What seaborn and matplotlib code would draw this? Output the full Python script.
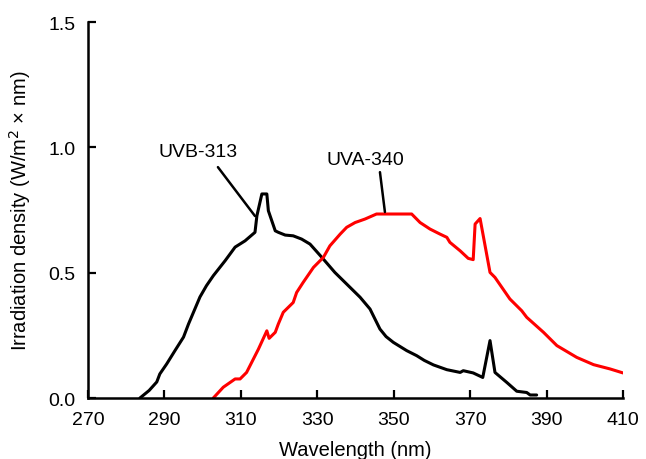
import numpy as np
import pandas as pd
import matplotlib
matplotlib.use("Agg")
import matplotlib.pyplot as plt
import seaborn as sns

# UVB-313 spectrum (wavelength nm, irradiance W/m^2/nm)
uvb_wl = [283.6, 286.0, 288.0, 288.8, 290.6, 292.8, 295.0, 296.3, 299.3, 301.0,
          302.8, 305.9, 308.5, 311.1, 313.7, 314.2, 315.5, 316.8, 317.2, 319.0,
          319.8, 321.6, 323.7, 325.9, 328.1, 329.8, 331.6, 334.6, 336.8, 339.0,
          341.2, 343.8, 345.1, 346.4, 348.0, 349.9, 353.4, 356.0, 358.0, 360.4,
          363.9, 367.4, 368.2, 370.8, 373.3, 375.2, 376.5, 379.6, 382.2, 384.8,
          385.7, 387.4]
uvb_val = [0.0, 0.030, 0.064, 0.096, 0.136, 0.19, 0.243, 0.295, 0.403, 0.448,
           0.488, 0.548, 0.602, 0.627, 0.661, 0.727, 0.814, 0.814, 0.747, 0.667,
           0.661, 0.650, 0.647, 0.634, 0.614, 0.585, 0.554, 0.501, 0.468, 0.435,
           0.402, 0.355, 0.315, 0.275, 0.245, 0.222, 0.189, 0.169, 0.150, 0.132,
           0.113, 0.102, 0.109, 0.100, 0.082, 0.229, 0.102, 0.062, 0.027, 0.022,
           0.012, 0.012]

# UVA-340 spectrum
uva_wl = [302.8, 305.4, 308.5, 309.8, 311.5, 314.6, 316.8, 317.4, 319.0, 319.8,
          321.1, 323.7, 324.6, 326.3, 328.1, 329.0, 331.6, 333.3, 336.0, 337.7,
          339.9, 342.5, 345.5, 354.7, 356.9, 359.5, 362.1, 363.9, 364.7, 367.4,
          369.5, 370.8, 371.3, 372.6, 375.2, 376.5, 380.4, 383.5, 384.8, 389.2,
          392.7, 397.9, 402.3, 406.6, 410.0]
uva_val = [0.0, 0.043, 0.076, 0.076, 0.102, 0.195, 0.268, 0.238, 0.262, 0.295,
           0.342, 0.381, 0.421, 0.461, 0.501, 0.521, 0.561, 0.607, 0.654, 0.681,
           0.700, 0.714, 0.734, 0.734, 0.700, 0.674, 0.654, 0.641, 0.621, 0.587,
           0.557, 0.552, 0.694, 0.716, 0.501, 0.481, 0.395, 0.348, 0.322, 0.262,
           0.209, 0.162, 0.133, 0.116, 0.100]

x_ticks = [270, 290, 310, 330, 350, 370, 390, 410]
y_ticks = [0.0, 0.5, 1.0, 1.5]
y_tick_labels = ["0.0", "0.5", "1.0", "1.5"]

sns.set_style("ticks")
plt.rcParams['font.family'] = ['Liberation Sans', 'DejaVu Sans']
plt.rcParams['text.color'] = 'black'
plt.rcParams['axes.labelcolor'] = 'black'

fig = plt.figure(figsize=(6.46, 4.60), dpi=100)
ax = fig.add_axes([0.1362, 0.1326, 0.8282, 0.8174])

df_b = pd.DataFrame({"wl": uvb_wl, "val": uvb_val})
df_a = pd.DataFrame({"wl": uva_wl, "val": uva_val})
sns.lineplot(data=df_b, x="wl", y="val", ax=ax, color="black", lw=2.2, sort=False)
sns.lineplot(data=df_a, x="wl", y="val", ax=ax, color="#ff0000", lw=2.2, sort=False)

ax.set_xlim(270, 410)
ax.set_ylim(0, 1.5)
ax.set_xticks(x_ticks)
ax.set_xticklabels([str(t) for t in x_ticks])
ax.set_yticks(y_ticks)
ax.set_yticklabels(y_tick_labels)
ax.tick_params(direction="in", length=6, width=1.6, labelsize=14, colors="black")
ax.tick_params(axis="x", pad=9)
ax.tick_params(axis="y", pad=9)
for s in ["top", "right"]:
    ax.spines[s].set_visible(False)
for s in ["left", "bottom"]:
    ax.spines[s].set_linewidth(1.8)
    ax.spines[s].set_color("black")

ax.set_xlabel("Wavelength (nm)", fontsize=14.5, labelpad=9)
ax.set_ylabel("Irradiation density (W/m$^2$ × nm)", fontsize=14.5, labelpad=11)

# annotations
ax.text(298.8, 0.985, "UVB-313", ha="center", va="center", fontsize=14)
ax.plot([304.0, 313.7], [0.921, 0.726], color="black", lw=1.8)
ax.text(342.5, 0.953, "UVA-340", ha="center", va="center", fontsize=14)
ax.plot([346.4, 347.7], [0.901, 0.742], color="black", lw=1.8)

fig.savefig("out.png", dpi=100)
